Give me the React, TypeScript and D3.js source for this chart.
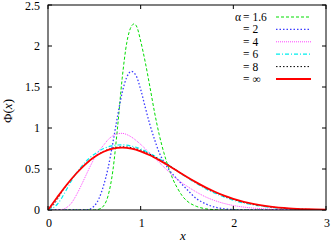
import * as d3 from 'd3';

// values, [x, Φ(x)]
const alpha16 = [
  [0, 0], [0.5, 0], [0.55, 0.01], [0.6, 0.05], [0.65, 0.18], [0.7, 0.48], [0.75, 1.0], [0.8, 1.6],
  [0.85, 2.04], [0.9, 2.24], [0.93, 2.27], [0.96, 2.23], [1.0, 2.06], [1.05, 1.8], [1.1, 1.5],
  [1.15, 1.19], [1.2, 0.92], [1.25, 0.7], [1.3, 0.52], [1.35, 0.37], [1.4, 0.26], [1.45, 0.17],
  [1.5, 0.11], [1.6, 0.045], [1.7, 0.015], [1.8, 0.004], [1.9, 0], [3, 0],
];
const alpha2 = [
  [0, 0], [0.4, 0], [0.45, 0.01], [0.5, 0.05], [0.55, 0.14], [0.6, 0.3], [0.65, 0.52], [0.7, 0.82],
  [0.75, 1.14], [0.8, 1.43], [0.85, 1.62], [0.9, 1.69], [0.95, 1.64], [1.0, 1.47], [1.05, 1.25],
  [1.1, 1.04], [1.15, 0.86], [1.2, 0.7], [1.25, 0.59], [1.3, 0.5], [1.4, 0.37], [1.5, 0.25],
  [1.6, 0.14], [1.7, 0.075], [1.8, 0.035], [1.9, 0.015], [2.0, 0.005], [2.1, 0], [3, 0],
];
const alpha4 = [
  [0, 0], [0.1, 0], [0.15, 0.005], [0.2, 0.03], [0.25, 0.08], [0.3, 0.17], [0.35, 0.28], [0.4, 0.4],
  [0.45, 0.52], [0.5, 0.63], [0.55, 0.72], [0.6, 0.79], [0.65, 0.86], [0.7, 0.905], [0.75, 0.93],
  [0.8, 0.935], [0.85, 0.92], [0.9, 0.89], [1.0, 0.8], [1.1, 0.69], [1.2, 0.58], [1.3, 0.47],
  [1.4, 0.37], [1.5, 0.29], [1.6, 0.22], [1.7, 0.16], [1.8, 0.115], [1.9, 0.08], [2.0, 0.055],
  [2.2, 0.025], [2.4, 0.01], [2.6, 0.004], [2.8, 0.001], [3.0, 0],
];
const alpha6 = [
  [0, 0], [0.05, 0.02], [0.1, 0.07], [0.15, 0.15], [0.2, 0.25], [0.25, 0.35], [0.3, 0.44],
  [0.35, 0.515], [0.4, 0.58], [0.45, 0.635], [0.5, 0.68], [0.6, 0.75], [0.7, 0.785], [0.8, 0.795],
  [0.9, 0.78], [1.0, 0.745], [1.1, 0.69], [1.2, 0.625], [1.3, 0.55], [1.4, 0.47], [1.5, 0.395],
  [1.6, 0.325], [1.7, 0.26], [1.8, 0.205], [1.9, 0.16], [2.0, 0.12], [2.2, 0.065], [2.4, 0.032],
  [2.6, 0.014], [2.8, 0.006], [3.0, 0.002],
];
const alpha8 = [
  [0, 0], [0.05, 0.05], [0.1, 0.13], [0.15, 0.22], [0.2, 0.3], [0.25, 0.37], [0.3, 0.435],
  [0.4, 0.55], [0.5, 0.645], [0.6, 0.715], [0.7, 0.755], [0.8, 0.77], [0.9, 0.76], [1.0, 0.73],
  [1.1, 0.68], [1.2, 0.618], [1.3, 0.548], [1.4, 0.475], [1.5, 0.403], [1.6, 0.335], [1.7, 0.272],
  [1.8, 0.217], [1.9, 0.17], [2.0, 0.13], [2.2, 0.073], [2.4, 0.038], [2.6, 0.018], [2.8, 0.008],
  [3.0, 0.003],
];
const alphaInf = [
  [0, 0], [0.1, 0.156], [0.2, 0.305], [0.3, 0.439], [0.4, 0.554], [0.5, 0.645], [0.6, 0.71],
  [0.7, 0.748], [0.8, 0.76], [0.9, 0.748], [1.0, 0.716], [1.1, 0.668], [1.2, 0.608], [1.3, 0.542],
  [1.4, 0.472], [1.5, 0.403], [1.6, 0.337], [1.7, 0.276], [1.8, 0.222], [1.9, 0.175], [2.0, 0.136],
  [2.2, 0.077], [2.4, 0.041], [2.6, 0.02], [2.8, 0.009], [3.0, 0.004],
];

const xTicks = [0, 1, 2, 3];
const yTicks = [0, 0.5, 1, 1.5, 2, 2.5];
const legendLabels = ['1.6', '2', '4', '6', '8', '∞'];

const series = [
  { data: alpha16, color: '#00dd00', dash: '3,2', width: 1 },
  { data: alpha2, color: '#3b3bff', dash: '1.5,2', width: 1.3 },
  { data: alpha4, color: '#ff44ff', dash: '1,1', width: 1 },
  { data: alpha6, color: '#00eeee', dash: '4,2,1,2', width: 1.2 },
  { data: alpha8, color: '#000000', dash: '1.5,2', width: 1 },
  { data: alphaInf, color: '#ff0000', dash: null, width: 1.8 },
];

const W = 331;
const H = 243;
const m = { left: 48, right: 5, top: 5, bottom: 33 };
const FONT = "'Liberation Serif', 'Times New Roman', Times, 'DejaVu Serif', serif";

export default function App() {
  const x = d3.scaleLinear().domain([0, 3]).range([m.left, W - m.right]);
  const y = d3.scaleLinear().domain([0, 2.5]).range([H - m.bottom, m.top]);
  const line = d3
    .line<number[]>()
    .x((d) => x(d[0]))
    .y((d) => y(d[1]))
    .curve(d3.curveMonotoneX);

  const tick = 4;
  const legendX = 243;
  const legendY = (i) => 17 + i * 12.4;

  return (
    <svg width={W} height={H} style={{ position: 'absolute', left: 0, top: 0, fontFamily: FONT }}>
      <rect width={W} height={H} fill="#fff" />
      <defs>
        <clipPath id="plot">
          <rect x={m.left} y={m.top} width={W - m.left - m.right} height={H - m.top - m.bottom} />
        </clipPath>
      </defs>

      {yTicks.map((t) => (
        <g key={'y' + t}>
          <line x1={m.left} x2={m.left + tick} y1={y(t)} y2={y(t)} stroke="#000" />
          <line x1={W - m.right} x2={W - m.right - tick} y1={y(t)} y2={y(t)} stroke="#000" />
          <text x={40} y={Math.max(y(t) + 4, 10)} fontSize={12} textAnchor="end">{t}</text>
        </g>
      ))}
      {xTicks.map((t) => (
        <g key={'x' + t}>
          <line x1={x(t)} x2={x(t)} y1={H - m.bottom} y2={H - m.bottom - tick} stroke="#000" />
          <line x1={x(t)} x2={x(t)} y1={m.top} y2={m.top + tick} stroke="#000" />
          <text x={x(t) + 1} y={227} fontSize={12} textAnchor="middle">{t}</text>
        </g>
      ))}

      <g clipPath="url(#plot)">
        {series.map((s, i) => (
          <path
            key={i}
            d={line(s.data)}
            fill="none"
            stroke={s.color}
            strokeWidth={s.width}
            strokeDasharray={s.dash || undefined}
          />
        ))}
      </g>

      {series.map((s, i) => (
        <g key={'lg' + i}>
          {i === 0 && (
            <text x={legendX - 2} y={legendY(i) + 4} fontSize={11.5} textAnchor="end">α</text>
          )}
          <text x={legendX} y={legendY(i) + 4} fontSize={11.5}>= {legendLabels[i]}</text>
          <line
            x1={276}
            x2={311}
            y1={legendY(i)}
            y2={legendY(i)}
            stroke={s.color}
            strokeWidth={s.width}
            strokeDasharray={s.dash || undefined}
          />
        </g>
      ))}

      <rect
        x={m.left}
        y={m.top}
        width={W - m.left - m.right}
        height={H - m.top - m.bottom}
        fill="none"
        stroke="#000"
      />

      <text x={183} y={240} fontSize={13} fontStyle="italic" textAnchor="middle">x</text>
      <text transform="translate(12,111) rotate(-90)" fontSize={13} textAnchor="middle">
        Φ(<tspan fontStyle="italic">x</tspan>)
      </text>
    </svg>
  );
}
